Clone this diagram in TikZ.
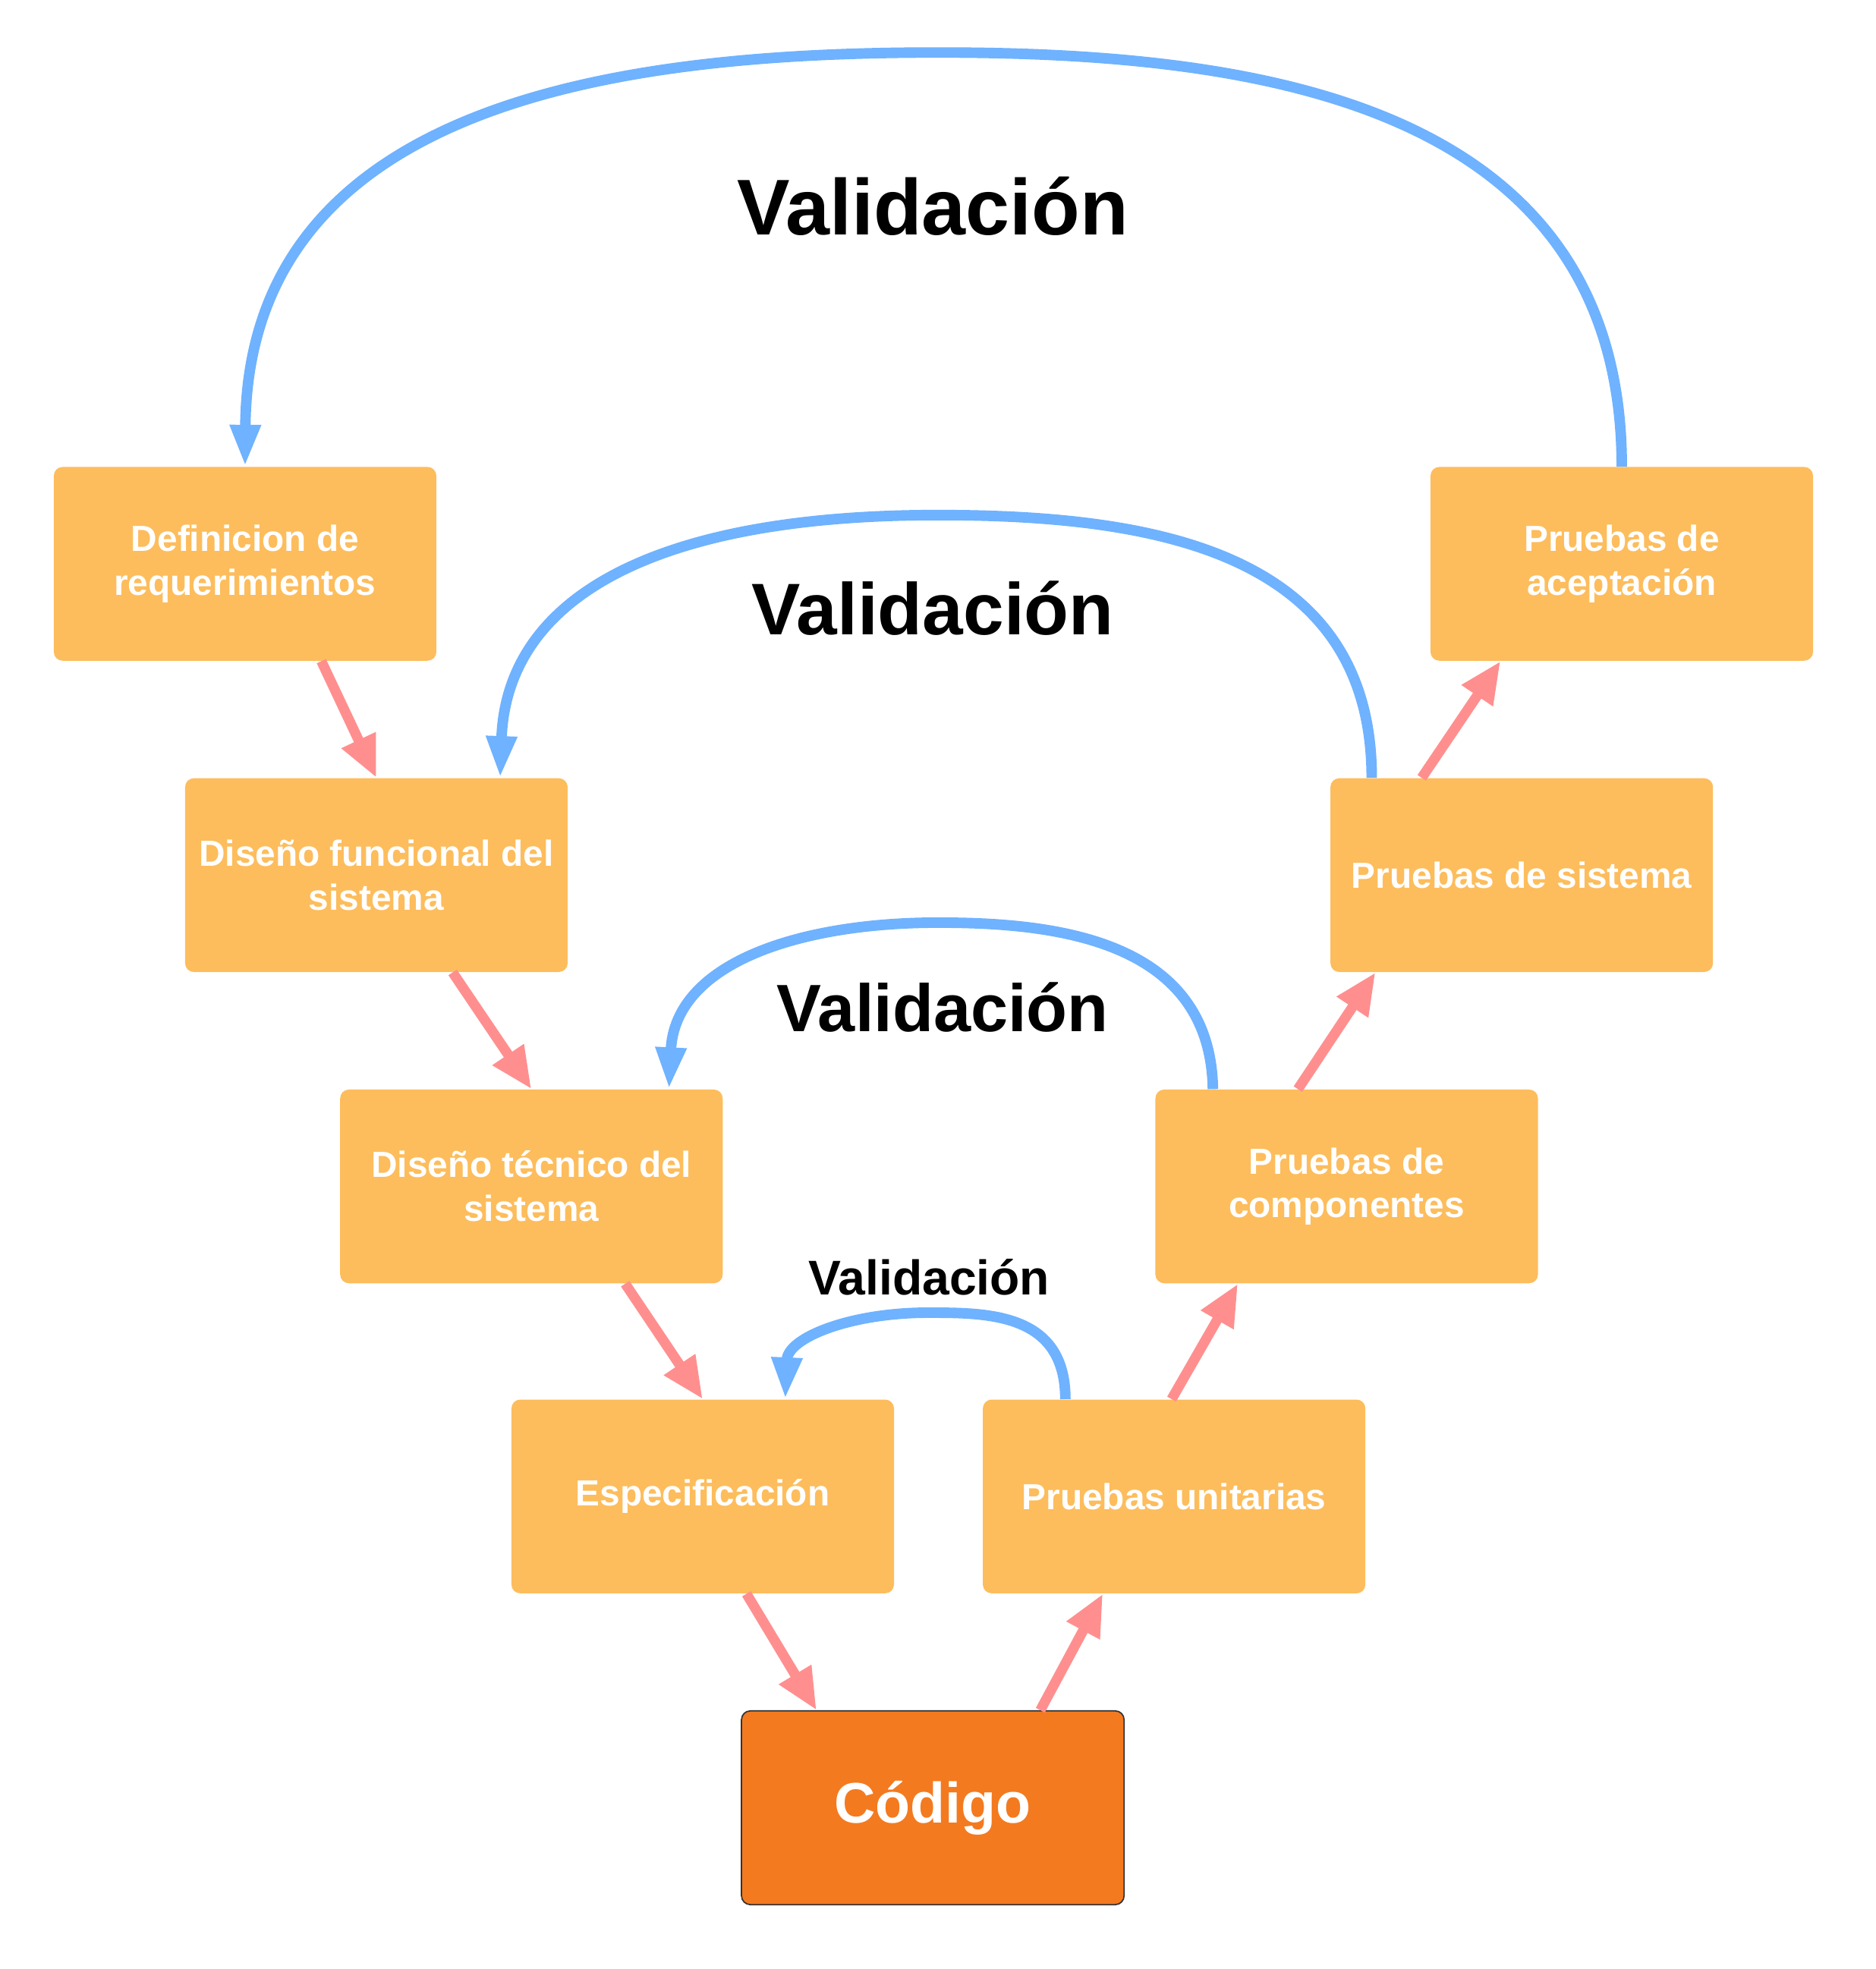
\documentclass[tikz,border=0pt]{standalone}
\usepackage{fontspec}
\setmainfont{Liberation Sans}
\usetikzlibrary{arrows.meta}

\definecolor{boxorange}{HTML}{FDBD5C}
\definecolor{codeorange}{HTML}{F47A1F}
\definecolor{flowpink}{HTML}{FF8F8F}
\definecolor{valblue}{HTML}{6FB2FF}

\tikzset{
  phase/.style={fill=boxorange, rounded corners=4pt, minimum width=6.12cm,
    minimum height=3.1cm, inner sep=0pt, align=center, text=white,
    font=\bfseries\fontsize{16.5}{20}\selectfont},
  codebox/.style={phase, fill=codeorange, draw=black!80, line width=0.6pt,
    font=\bfseries\fontsize{26}{30}\selectfont},
  flow/.style={flowpink, line width=4.6pt, -{Triangle[length=19pt,width=16pt]}},
  valcurve/.style={valblue, line width=4.8pt, -{Triangle[length=19pt,width=13pt]}},
  vlabel/.style={anchor=base}
}

\begin{document}
\begin{tikzpicture}[x=0.02cm, y=-0.02cm]
    \useasboundingbox (0,0) rectangle (1500,1575);

    % Left branch of the V
    \node[phase] (defreq) at (196,451) {Definicion de\\requerimientos};
    \node[phase] (disfunc) at (301,700) {Diseño funcional del\\sistema};
    \node[phase] (distec) at (425,949) {Diseño técnico del\\sistema};
    \node[phase] (espec) at (562,1197) {Especificación};

    % Bottom
    \node[codebox] (codigo) at (746,1446) {Código};

    % Right branch of the V
    \node[phase] (prunit) at (939,1197) {Pruebas unitarias};
    \node[phase] (prcomp) at (1077,949) {Pruebas de\\componentes};
    \node[phase] (prsis) at (1217,700) {Pruebas de sistema};
    \node[phase] (pracep) at (1297,451) {Pruebas de\\aceptación};

    % Flow down and up
    \draw[flow] ([xshift=1.22cm]defreq.south) -- (disfunc.north);
    \draw[flow] ([xshift=1.22cm]disfunc.south) -- (distec.north);
    \draw[flow] ([xshift=1.5cm]distec.south) -- (espec.north);
    \draw[flow] ([xshift=0.7cm]espec.south) -- ([xshift=-1.86cm]codigo.north);
    \draw[flow] ([xshift=1.72cm]codigo.north) -- ([xshift=-1.14cm]prunit.south);
    \draw[flow] ([xshift=-0.04cm]prunit.north) -- ([xshift=-1.74cm]prcomp.south);
    \draw[flow] ([xshift=-0.78cm]prcomp.north) -- ([xshift=-2.34cm]prsis.south);
    \draw[flow] ([xshift=-1.6cm]prsis.north) -- ([xshift=-1.94cm]pracep.south);

    % Validation loops
    \draw[valcurve] (pracep.north) .. controls (1297,80) and (1000,42) .. (750,42)
        .. controls (500,42) and (198,80) .. (defreq.north);
    \draw[valcurve] ([xshift=-2.4cm]prsis.north) .. controls (1097,440) and (920,412) .. (750,412)
        .. controls (520,412) and (405,480) .. ([xshift=1.98cm]disfunc.north);
    \draw[valcurve] ([xshift=-2.14cm]prcomp.north) .. controls (968,750) and (840,738) .. (750,738)
        .. controls (640,738) and (540,770) .. ([xshift=2.2cm]distec.north);
    \draw[valcurve] ([xshift=-1.74cm]prunit.north) .. controls (852,1050) and (790,1050) .. (742,1050)
        .. controls (680,1050) and (630,1070) .. ([xshift=1.32cm]espec.north);

    % Labels
    \node[vlabel, font=\bfseries\fontsize{36}{40}\selectfont] (valA) at (746,188) {Validación};
    \node[vlabel, font=\bfseries\fontsize{33.3}{38}\selectfont] (valB) at (746,508) {Validación};
    \node[vlabel, font=\bfseries\fontsize{30.5}{35}\selectfont] (valC) at (754,825) {Validación};
    \node[vlabel, font=\bfseries\fontsize{22.2}{26}\selectfont] (valD) at (743,1036) {Validación};
\end{tikzpicture}
\end{document}
